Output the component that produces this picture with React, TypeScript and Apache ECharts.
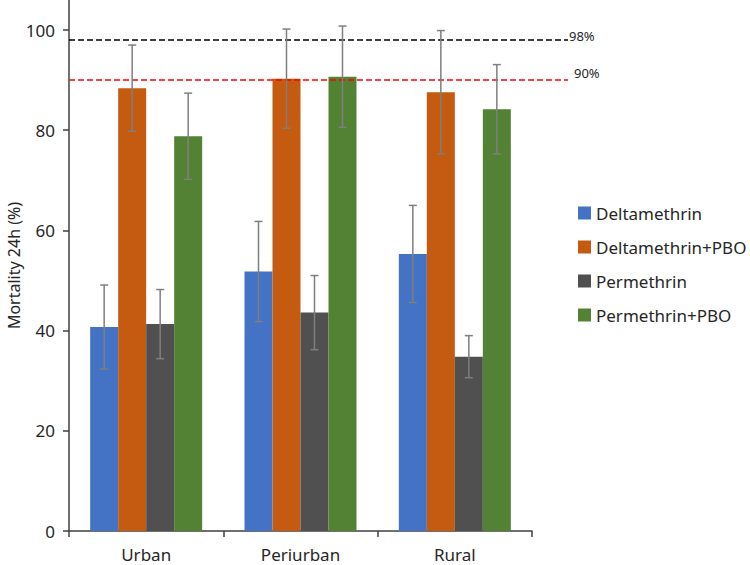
import React, { useEffect, useRef } from "react";
import * as echarts from "echarts";

const categories = ["Urban", "Periurban", "Rural"];
const seriesNames = ["Deltamethrin", "Deltamethrin+PBO", "Permethrin", "Permethrin+PBO"];
const colors = ["#4472C4", "#C55A11", "#505050", "#548235"];
const deltamethrin = [40.7, 51.8, 55.3];
const deltamethrinPBO = [88.4, 90.3, 87.6];
const permethrin = [41.3, 43.6, 34.8];
const permethrinPBO = [78.8, 90.7, 84.2];
const errDeltamethrin = [8.4, 10.0, 9.7];
const errDeltamethrinPBO = [8.6, 9.9, 12.3];
const errPermethrin = [6.9, 7.4, 4.2];
const errPermethrinPBO = [8.6, 10.1, 8.9];
const yTicks = [0, 20, 40, 60, 80, 100];
const thresholds = [98, 90];
const thresholdColors = ["#000000", "#FF0000"];

const values = [deltamethrin, deltamethrinPBO, permethrin, permethrinPBO];
const errors = [errDeltamethrin, errDeltamethrinPBO, errPermethrin, errPermethrinPBO];

const FONT = "Noto Sans";
const BAR_W = 28;
const Y_MAX = 106;

export default function App() {
  const ref = useRef<HTMLDivElement>(null);
  useEffect(() => {
    if (!ref.current) return;
    const chart = echarts.init(ref.current, undefined, { renderer: "svg" });

    const errData: number[][] = [];
    values.forEach((vals, s) => {
      vals.forEach((v, c) => {
        errData.push([c, v - errors[s][c], v + errors[s][c], s]);
      });
    });

    const barSeries = values.map((vals, s) => ({
      type: "bar",
      name: seriesNames[s],
      data: vals,
      barWidth: BAR_W,
      barGap: "0%",
      itemStyle: { color: colors[s] },
      xAxisIndex: 0,
      yAxisIndex: 0,
      z: 2,
    }));

    const option: any = {
      animation: false,
      textStyle: { fontFamily: FONT },
      grid: [
        { left: 69, right: 218, top: 0, bottom: 34, containLabel: false, outerBoundsMode: "none" },
        { left: 69, right: 182, top: 0, bottom: 34, containLabel: false, outerBoundsMode: "none" },
      ],
      legend: {
        orient: "vertical",
        left: 578,
        top: 203,
        padding: 0,
        itemWidth: 13,
        itemHeight: 13,
        itemGap: 14,
        icon: "rect",
        data: seriesNames,
        textStyle: { fontFamily: FONT, fontSize: 17, color: "#262626", lineHeight: 20 },
      },
      xAxis: [
        {
          type: "category",
          data: categories,
          gridIndex: 0,
          axisLine: { lineStyle: { color: "#404040", width: 1.5 } },
          axisTick: { show: true, length: 6, lineStyle: { color: "#404040", width: 1.5 } },
          axisLabel: { fontFamily: FONT, fontSize: 17, color: "#262626", margin: 15 },
        },
        { type: "value", gridIndex: 1, min: 0, max: 1, show: false },
      ],
      yAxis: [
        {
          type: "value",
          gridIndex: 0,
          min: 0,
          max: Y_MAX,
          interval: 20,
          name: "Mortality 24h (%)",
          nameLocation: "middle",
          nameGap: 47,
          nameMoveOverlap: false,
          nameTextStyle: { fontFamily: FONT, fontSize: 16, color: "#262626" },
          splitLine: { show: false },
          axisLine: { show: true, lineStyle: { color: "#404040", width: 1.5 } },
          axisTick: { show: true, length: 6, customValues: yTicks, lineStyle: { color: "#404040", width: 1.5 } },
          axisLabel: { fontFamily: FONT, fontSize: 17, color: "#262626", margin: 14, customValues: yTicks },
        },
        { type: "value", gridIndex: 1, min: 0, max: Y_MAX, show: false },
      ],
      series: [
        ...barSeries,
        {
          type: "custom",
          name: "errors",
          xAxisIndex: 0,
          yAxisIndex: 0,
          z: 5,
          data: errData,
          renderItem: (params: any, api: any) => {
            const c = api.value(0);
            const s = api.value(3);
            const lo = api.coord([c, api.value(1)]);
            const hi = api.coord([c, api.value(2)]);
            const x = lo[0] + (s - 1.5) * BAR_W;
            const style = { stroke: "#7F7F7F", lineWidth: 1.5 };
            const cap = 4;
            return {
              type: "group",
              children: [
                { type: "line", shape: { x1: x, y1: lo[1], x2: x, y2: hi[1] }, style },
                { type: "line", shape: { x1: x - cap, y1: hi[1], x2: x + cap, y2: hi[1] }, style },
                { type: "line", shape: { x1: x - cap, y1: lo[1], x2: x + cap, y2: lo[1] }, style },
              ],
            };
          },
        },
        {
          type: "line",
          name: "thresholds",
          xAxisIndex: 1,
          yAxisIndex: 1,
          data: [],
          markLine: {
            symbol: "none",
            silent: true,
            data: thresholds.map((t, i) => ({
              yAxis: t,
              lineStyle: { color: thresholdColors[i], type: [6, 3], width: 1.5 },
              label: {
                show: true,
                position: "end",
                formatter: t + "%",
                fontFamily: FONT,
                fontSize: 13,
                color: "#262626",
                distance: i === 0 ? 1 : 6,
                offset: i === 0 ? [0, -4] : [0, -7],
              },
            })),
          },
        },
      ],
    };
    chart.setOption(option);
    return () => chart.dispose();
  }, []);
  return (
    <div
      ref={ref}
      style={{ position: "fixed", left: 0, top: 0, width: 750, height: 565, background: "#fff" }}
    />
  );
}
